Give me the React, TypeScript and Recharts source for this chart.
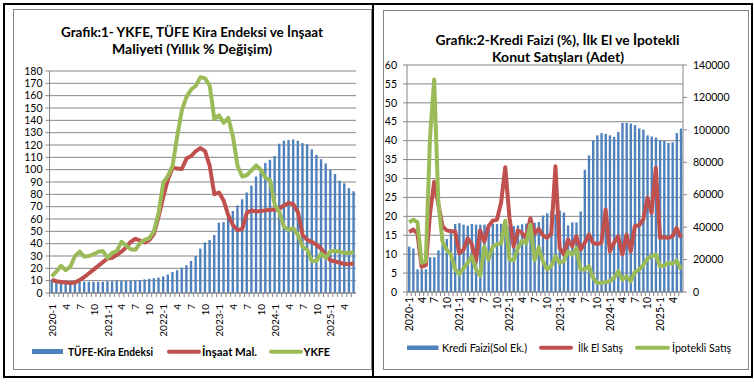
import React from "react";
import { ComposedChart, Bar, Line, XAxis, YAxis, CartesianGrid } from "recharts";

// categories: monthly, 2020-1 .. 2025-6
const YEARS = [2020, 2021, 2022, 2023, 2024, 2025];
const LAST_MONTH_2025 = 6;
const months: string[] = [];
YEARS.forEach((y) => {
  for (let m = 1; m <= 12; m++) {
    if (y === 2025 && m > LAST_MONTH_2025) break;
    months.push(`${y}-${m}`);
  }
});

// Grafik 1 - yıllık % değişim
const tufeKira = [
  11, 10, 10, 9.5, 9.5, 9, 9, 9, 9, 9, 9, 9,
  9.5, 9.5, 10, 10, 10, 10, 10, 10.5, 11, 11.5, 12, 12.5,
  13.5, 15, 17, 18.5, 20.5, 22.5, 26, 30, 36, 41, 43, 47,
  57, 57.5, 62, 66.5, 71, 76, 81.5, 87, 94.5, 98.5, 105.5, 108,
  111, 121, 123.5, 124, 124.5, 123.5, 121.5, 120.5, 116.5, 112, 108.5, 105,
  100, 96.5, 91, 89, 85, 82.5,
];
const insaatMal = [
  10.5, 9.5, 9, 8.5, 8, 8.5, 10.5, 13, 16, 19, 22, 25,
  28, 28.5, 31, 33.5, 37, 41.5, 44, 42.5, 41, 43, 48, 62,
  78, 92, 101.5, 101, 100.5, 109, 111, 115, 117.5, 115, 103, 80,
  81.5, 75, 63, 55, 51, 52, 65, 67, 66, 66.5, 67, 67.5,
  67.5, 68.5, 71, 73, 72, 65.5, 47, 43, 41.5, 39, 36, 31,
  26.5, 25.5, 24.5, 23.5, 23.5, 24,
];
const ykfe = [
  13.5, 17.5, 22, 18.5, 21.5, 30, 33.5, 29.5, 30, 31.5, 33.5, 34,
  28.5, 32.5, 34, 41.5, 38.5, 35.5, 35, 40.5, 43, 44.5, 50, 65,
  89.5, 95, 103, 127, 148, 159, 165, 168, 175, 174, 168, 141,
  144, 138, 142, 127, 103, 94.5, 95.5, 99.5, 103.5, 100, 93.5, 91.5,
  72, 65.5, 53.5, 51.5, 52.5, 47, 37.5, 35, 26, 26, 32, 28.5,
  34, 34, 33.5, 32.5, 32.5, 33,
];
const leftTicks = [0, 10, 20, 30, 40, 50, 60, 70, 80, 90, 100, 110, 120, 130, 140, 150, 160, 170, 180];

// Grafik 2 - kredi faizi (%) ve satışlar (adet)
const krediFaizi = [
  12, 11.5, 6, 6, 6, 9.2, 9.2, 11, 12.5, 14, 16, 18,
  18.2, 17.8, 17.5, 18, 17.8, 17.8, 17.8, 18, 18, 18, 18, 18.5,
  17.5, 17.4, 17.6, 17.9, 18.1, 18.3, 18.3, 18.5, 20.2, 20.8, 21.5, 20.5,
  21.5, 21, 17.6, 18.4, 18.4, 21.3, 32.3, 36.1, 40.1, 41.4, 42, 41.8,
  41.4, 41, 42.3, 44.7, 44.7, 44.5, 44.1, 43.2, 42.9, 41.4, 41.1, 40.8,
  40.2, 39.9, 39.4, 39.6, 42, 43.2,
];
const ilkElSatis = [
  37000, 38500, 36000, 15500, 16500, 48000, 68000, 54000, 40500, 38000, 37500, 37500,
  24000, 26000, 33000, 29500, 19000, 38000, 31000, 40500, 44000, 44500, 55000, 77000,
  46000, 28000, 38000, 36500, 33000, 45500, 36000, 39000, 35000, 33500, 36000, 77600,
  27200, 23100, 32300, 28200, 34400, 26100, 30300, 35400, 30300, 29600, 30300, 50900,
  25100, 30300, 34400, 23100, 35400, 25100, 40600, 41200, 44700, 58100, 48800, 76600,
  33400, 33800, 33400, 34400, 39500, 33400,
];
const ipotekliSatis = [
  43000, 44500, 43000, 18000, 19000, 95000, 131000, 55000, 31000, 26000, 23000, 14000,
  11000, 14500, 18000, 22000, 14000, 10000, 28000, 20000, 28000, 29500, 30000, 44000,
  20000, 19500, 27000, 31500, 30000, 41500, 19500, 27500, 19000, 14000, 16000, 22000,
  18000, 19000, 25000, 23000, 27000, 14000, 13800, 16000, 8700, 5600, 5600, 6200,
  6600, 8700, 12800, 7600, 9700, 6600, 12300, 13800, 16500, 20600, 22000, 23100,
  15900, 16300, 17900, 17500, 19400, 14000,
];
const rateTicks = [0, 5, 10, 15, 20, 25, 30, 35, 40, 45, 50, 55, 60];
const salesTicks = [0, 20000, 40000, 60000, 80000, 100000, 120000, 140000];

const BLUE = "#4F81BD";
const RED = "#C0504D";
const GREEN = "#9BBB59";
const GRID = "#868686";
const FONT = "Lato, 'Open Sans', sans-serif";

const data1 = months.map((m, i) => ({
  month: m,
  kira: tufeKira[i],
  insaat: insaatMal[i],
  ykfe: ykfe[i],
}));
const data2 = months.map((m, i) => ({
  month: m,
  faiz: krediFaizi[i],
  ilkEl: ilkElSatis[i],
  ipotekli: ipotekliSatis[i],
}));

// month ticks: small mark at every category boundary, label every 3rd month
const makeMonthTick = (band: number, offset: number, fontSize: number) => (props: any) => {
  const { x, y, payload } = props;
  const value = String(payload.value);
  const mo = Number(value.split("-")[1]);
  const label = mo === 1 ? value : String(mo);
  return (
    <g>
      <line x1={x - band / 2} x2={x - band / 2} y1={y} y2={y + 4} stroke={GRID} />
      {(mo - 1) % 3 === 0 && (
        <text
          transform={`translate(${x},${y + offset}) rotate(-90)`}
          textAnchor="end"
          dominantBaseline="central"
          fontSize={fontSize}
          fontFamily={FONT}
          fill="#000"
        >
          {label}
        </text>
      )}
    </g>
  );
};

const tickStyle = { fontSize: 10.5, fill: "#000", fontFamily: FONT };
const lineProps = {
  type: "linear" as const,
  strokeWidth: 4,
  dot: false,
  strokeLinejoin: "round" as const,
  isAnimationActive: false,
};

function LeftChart() {
  return (
    <ComposedChart
      width={377}
      height={387}
      data={data1}
      margin={{ top: 71, right: 21, left: 0, bottom: 0 }}
      barCategoryGap={0}
    >
      <CartesianGrid vertical={false} stroke={GRID} />
      <XAxis
        dataKey="month"
        interval={0}
        height={94}
        tickSize={0}
        tickMargin={0}
        tickLine={false}
        axisLine={{ stroke: GRID }}
        tick={makeMonthTick(306.5 / 66, 11, 10)}
      />
      <YAxis
        width={49.5}
        domain={[0, 180]}
        ticks={leftTicks}
        interval={0}
        tick={tickStyle}
        tickSize={4}
        tickMargin={3}
        tickLine={{ stroke: GRID }}
        axisLine={{ stroke: GRID }}
      />
      <Bar dataKey="kira" fill={BLUE} barSize={2.4} isAnimationActive={false} />
      <Line dataKey="insaat" stroke={RED} {...lineProps} />
      <Line dataKey="ykfe" stroke={GREEN} {...lineProps} />
    </ComposedChart>
  );
}

function RightChart() {
  return (
    <ComposedChart
      width={377}
      height={387}
      data={data2}
      margin={{ top: 65, right: 0, left: 0, bottom: 0 }}
      barCategoryGap={0}
    >
      <CartesianGrid vertical={false} stroke={GRID} yAxisId="left" />
      <XAxis
        dataKey="month"
        interval={0}
        height={95}
        tickSize={0}
        tickMargin={0}
        tickLine={false}
        axisLine={{ stroke: GRID }}
        tick={makeMonthTick(276 / 66, 5, 10.5)}
      />
      <YAxis
        yAxisId="left"
        width={30}
        domain={[0, 60]}
        ticks={rateTicks}
        interval={0}
        tick={tickStyle}
        tickSize={4}
        tickMargin={6}
        tickLine={{ stroke: GRID }}
        axisLine={{ stroke: GRID }}
      />
      <YAxis
        yAxisId="right"
        orientation="right"
        width={71}
        domain={[0, 140000]}
        ticks={salesTicks}
        interval={0}
        tick={tickStyle}
        tickSize={4}
        tickMargin={6}
        tickLine={{ stroke: GRID }}
        axisLine={{ stroke: GRID }}
      />
      <Bar yAxisId="left" dataKey="faiz" fill={BLUE} barSize={2.4} isAnimationActive={false} />
      <Line yAxisId="right" dataKey="ilkEl" stroke={RED} {...lineProps} />
      <Line yAxisId="right" dataKey="ipotekli" stroke={GREEN} {...lineProps} />
    </ComposedChart>
  );
}

// titles and legends, fitted to the widths in the original image
function Overlay() {
  const t = { fontFamily: FONT, fill: "#000" } as const;
  return (
    <svg width={754} height={387} style={{ position: "absolute", left: 0, top: 0, pointerEvents: "none" }}>
      <text {...t} x={192} y={37} textAnchor="middle" fontSize={14} fontWeight="bold" textLength={262} lengthAdjust="spacingAndGlyphs">
        Grafik:1- YKFE, TÜFE Kira Endeksi ve İnşaat
      </text>
      <text {...t} x={192} y={53.5} textAnchor="middle" fontSize={14} fontWeight="bold" textLength={160} lengthAdjust="spacingAndGlyphs">
        Maliyeti (Yıllık % Değişim)
      </text>
      <text {...t} x={557.5} y={45} textAnchor="middle" fontSize={14} fontWeight="bold" textLength={244} lengthAdjust="spacingAndGlyphs">
        Grafik:2-Kredi Faizi (%), İlk El ve İpotekli
      </text>
      <text {...t} x={558} y={61.5} textAnchor="middle" fontSize={14} fontWeight="bold" textLength={132} lengthAdjust="spacingAndGlyphs">
        Konut Satışları (Adet)
      </text>

      <rect x={32} y={349} width={31} height={5} fill={BLUE} />
      <text {...t} x={68} y={356} fontSize={11.5} fontWeight="bold" textLength={85} lengthAdjust="spacingAndGlyphs">
        TÜFE-Kira Endeksi
      </text>
      <line x1={169} x2={199} y1={351.7} y2={351.7} stroke={RED} strokeWidth={4} strokeLinecap="round" />
      <text {...t} x={202} y={356} fontSize={11.5} fontWeight="bold" textLength={55} lengthAdjust="spacingAndGlyphs">
        İnşaat Mal.
      </text>
      <line x1={271} x2={301} y1={351.7} y2={351.7} stroke={GREEN} strokeWidth={4} strokeLinecap="round" />
      <text {...t} x={303.5} y={356} fontSize={11.5} fontWeight="bold" textLength={26.5} lengthAdjust="spacingAndGlyphs">
        YKFE
      </text>

      <rect x={407} y={345.5} width={31.5} height={4.5} fill={BLUE} />
      <text {...t} x={442} y={351.5} fontSize={11} textLength={85} lengthAdjust="spacingAndGlyphs">
        Kredi Faizi(Sol Ek.)
      </text>
      <line x1={541} x2={571} y1={347.8} y2={347.8} stroke={RED} strokeWidth={4} strokeLinecap="round" />
      <text {...t} x={578} y={351.5} fontSize={11} textLength={45} lengthAdjust="spacingAndGlyphs">
        İlk El Satış
      </text>
      <line x1={637} x2={668} y1={347.8} y2={347.8} stroke={GREEN} strokeWidth={4} strokeLinecap="round" />
      <text {...t} x={672} y={351.5} fontSize={11} textLength={59} lengthAdjust="spacingAndGlyphs">
        İpotekli Satış
      </text>
    </svg>
  );
}

export default function App() {
  return (
    <div
      style={{
        position: "absolute",
        left: 0,
        top: 0,
        width: 754,
        height: 387,
        background: "#fff",
        fontFamily: FONT,
        overflow: "hidden",
      }}
    >
      {/* panel frames */}
      <div style={{ position: "absolute", left: 3, top: 3, width: 746, height: 371, border: "2px solid #000" }} />
      <div style={{ position: "absolute", left: 372, top: 3, width: 2, height: 375, background: "#000" }} />
      <div style={{ position: "absolute", left: 13, top: 9, width: 357, height: 359, border: "1px solid #868686" }} />
      <div style={{ position: "absolute", left: 383, top: 10, width: 364, height: 358, border: "1px solid #868686" }} />

      <div style={{ position: "absolute", left: 0, top: 0 }}>
        <LeftChart />
      </div>
      <div style={{ position: "absolute", left: 377, top: 0 }}>
        <RightChart />
      </div>
      <Overlay />
    </div>
  );
}
